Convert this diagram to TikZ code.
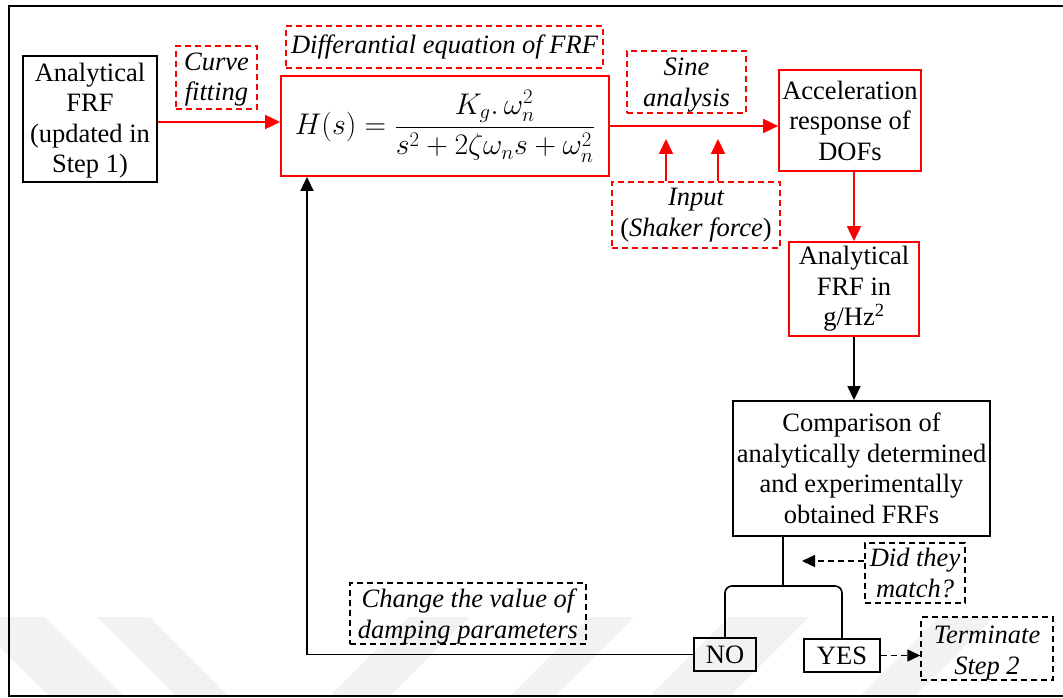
\documentclass[tikz,border=0pt]{standalone}
\usepackage{fontspec}
\setmainfont{Liberation Serif}[Ligatures=TeX]
\usetikzlibrary{arrows.meta,calc}
\definecolor{wmgray}{gray}{0.95}
% a strut that lowers the text block inside a fixed-size box
\newcommand{\lowerby}[1]{\rule{0pt}{#1}}
\tikzset{
  every node/.style={font=\rmfamily\fontsize{26.5}{30.5}\selectfont, align=center, inner sep=0pt},
  solidbox/.style={draw=black, line width=1.8pt},
  redbox/.style={draw=red, line width=1.8pt},
  note/.style={draw=black, line width=1.4pt, dash pattern=on 6pt off 4pt,
    font=\rmfamily\itshape\fontsize{26.5}{30.5}\selectfont},
  rednote/.style={note, draw=red},
  redflow/.style={draw=red, line width=2pt, -{Triangle[length=15pt,width=14pt]}},
  flow/.style={draw=black, line width=1.6pt, -{Triangle[length=14pt,width=13pt]}},
  hint/.style={draw=black, line width=1.4pt, dash pattern=on 6pt off 4pt,
    -{Triangle[length=13pt,width=12pt]}},
  plainline/.style={draw=black, line width=1.6pt},
}
\begin{document}
\begin{tikzpicture}[x=1pt,y=-1pt]
\clip (0,0) rectangle (1063,698);

% faint background stripes
\fill[wmgray] (-30,617) -- (45,617) -- (124,696) -- (49,696) -- cycle;
\fill[wmgray] (97,617) -- (150,617) -- (229,696) -- (176,696) -- cycle;
\fill[wmgray] (330,696) -- (390,696) -- (469,617) -- (409,617) -- cycle;
\fill[wmgray] (510,696) -- (555,696) -- (634,617) -- (589,617) -- cycle;
\fill[wmgray] (650,696) -- (730,696) -- (809,617) -- (729,617) -- cycle;
\fill[wmgray] (860,696) -- (915,696) -- (994,617) -- (939,617) -- cycle;

% outer frame
\draw[line width=2.2pt] (9,6) rectangle (1070,696);

% main blocks
\node[solidbox, minimum width=134pt, minimum height=126pt] (frf) at (90,119)
  {\lowerby{22pt}Analytical\\FRF\\(updated in\\Step 1)};
\node[redbox, minimum width=328pt, minimum height=100pt] (hbox) at (445,126)
  {\scalebox{1.2}{$\displaystyle H(s)=\frac{K_g.\,\omega_n^2}{s^2+2\zeta\omega_n s+\omega_n^2}$}};
\node[redbox, minimum width=142pt, minimum height=101pt] (accel) at (850,120.5)
  {Acceleration\\response of\\DOFs};
\node[redbox, minimum width=130pt, minimum height=94pt] (frfg) at (854,289)
  {Analytical\\FRF in\\g/Hz\textsuperscript{2}};
\node[solidbox, minimum width=257pt, minimum height=135pt] (comp) at (861.5,468.5)
  {Comparison of\\analytically determined\\and experimentally\\obtained FRFs};
\node[solidbox, minimum width=62pt, minimum height=33pt] (no) at (725,654.5) {NO};
\node[solidbox, minimum width=76pt, minimum height=33pt] (yes) at (842,655.5) {YES};

% annotations
\node[rednote, minimum width=81pt, minimum height=63pt] (curve) at (216.5,77.5)
  {\lowerby{22pt}Curve\\fitting};
\node[rednote, minimum width=317pt, minimum height=42pt] (diff) at (444.5,47)
  {Differantial equation of FRF};
\node[rednote, minimum width=119pt, minimum height=62pt] (sine) at (686.5,82)
  {\lowerby{24pt}Sine\\analysis};
\node[rednote, minimum width=168pt, minimum height=66pt] (input) at (696,215)
  {Input\\{\upshape(}Shaker force{\upshape)}};
\node[note, minimum width=100pt, minimum height=60pt] (match) at (915,573)
  {Did they\\match?};
\node[note, minimum width=132pt, minimum height=59pt] (term) at (987,648.5)
  {\lowerby{26.5pt}Terminate\\Step 2};
\node[note, minimum width=236pt, minimum height=59pt] (change) at (468,613.5)
  {\lowerby{25pt}Change the value of\\damping parameters};

% free ends and bends
\coordinate (inA) at (666,139);
\coordinate (inB) at (718,139);
\coordinate (ask) at (802,561);
\coordinate (split) at (783,586);
\coordinate (loop) at (307,656);

% red signal path
\draw[redflow] ($(frf.east)+(0,3)$) -- ($(frf.east -| hbox.west)+(0,3)$);
\draw[redflow] (hbox.east) -- (hbox.east -| accel.west);
\draw[redflow] (inA |- input.north) -- (inA);
\draw[redflow] (inB |- input.north) -- (inB);
\draw[redflow] (frfg.north |- accel.south) -- (frfg.north);

% comparison and decision
\draw[flow] (frfg.south) -- (frfg.south |- comp.north);
\draw[plainline] (comp.south -| split) -- (split);
\draw[plainline, rounded corners=7pt] (no.north) -- (no.north |- split)
  -- (yes.north |- split) -- (yes.north);
\draw[hint] (match.west |- ask) -- (ask);
\draw[hint] (yes.east) -- (yes.east -| term.west);
\draw[flow] (no.west) -- (no.west -| loop) -- (hbox.south -| loop);

\end{tikzpicture}
\end{document}
